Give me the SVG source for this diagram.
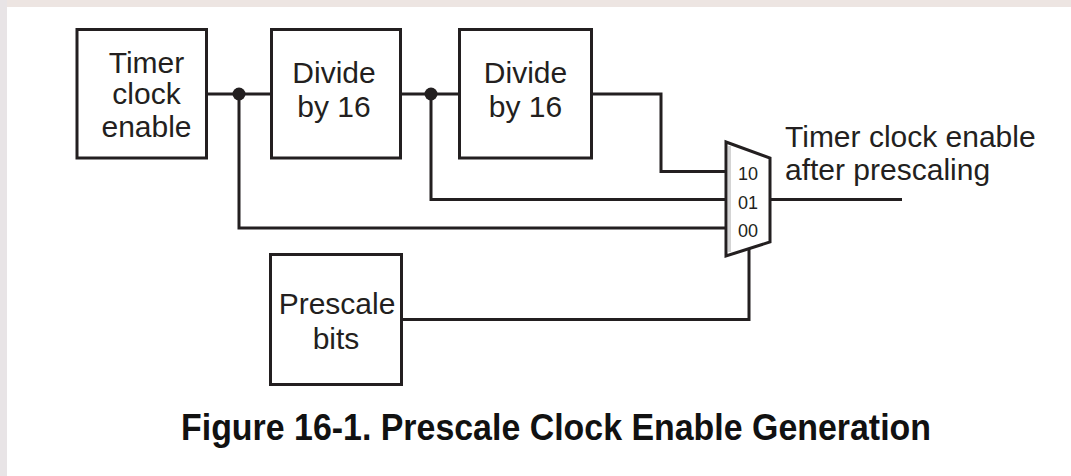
<svg xmlns="http://www.w3.org/2000/svg" width="1071" height="476" viewBox="0 0 1071 476">
<style>
.box{fill:none;stroke:#231f20;stroke-width:3}
.wire{fill:none;stroke:#231f20;stroke-width:3}
.t{font-family:"Liberation Sans",Arial,sans-serif;font-size:30px;fill:#231f20;text-anchor:middle}
.lbl{font-family:"Liberation Sans",Arial,sans-serif;font-size:30px;fill:#231f20}
.sel{font-family:"Liberation Sans",Arial,sans-serif;font-size:18px;fill:#231f20;text-anchor:middle}
.cap{font-family:"Liberation Sans",Arial,sans-serif;font-size:36px;font-weight:bold;fill:#111}
</style>
<rect x="0" y="0" width="1071" height="476" fill="#ffffff"/>
<rect x="0" y="0" width="1071" height="7" fill="#ede5e2"/>
<rect x="0" y="0" width="7" height="476" fill="#e8e4e6"/>

<g id="connectors">
<polyline class="wire" points="207,94 271,94"/>
<polyline class="wire" points="239,94 239,228 726,228"/>
<polyline class="wire" points="401,94 459,94"/>
<polyline class="wire" points="431,94 431,199.5 726,199.5"/>
<polyline class="wire" points="592,94 661,94 661,171.5 726,171.5"/>
<polyline class="wire" points="770,199.5 902,199.5"/>
<polyline class="wire" points="402,319.5 749,319.5 749,249"/>
<circle cx="239" cy="94" r="6.5" fill="#231f20"/>
<circle cx="431" cy="94" r="6.5" fill="#231f20"/>
</g>

<g id="timer-clock-enable">
<rect class="box" x="77" y="29.5" width="129.5" height="128.5"/>
<text class="t" x="146.5" y="73">Timer</text>
<text class="t" x="146.5" y="104">clock</text>
<text class="t" x="146.5" y="137">enable</text>
</g>

<g id="divide1">
<rect class="box" x="271.5" y="29.5" width="129" height="128.5"/>
<text class="t" x="334" y="83">Divide</text>
<text class="t" x="334" y="117">by 16</text>
</g>

<g id="divide2">
<rect class="box" x="459.5" y="29.5" width="132" height="128.5"/>
<text class="t" x="525.5" y="83">Divide</text>
<text class="t" x="525.5" y="117">by 16</text>
</g>

<g id="prescale-bits">
<rect class="box" x="270.5" y="254.5" width="131" height="130"/>
<text class="t" x="337" y="314">Prescale</text>
<text class="t" x="336" y="349">bits</text>
</g>

<g id="mux">
<line x1="729.5" y1="146" x2="729.5" y2="252" stroke="#d4d4d4" stroke-width="3"/>
<polygon points="726,142 770,158 770,242 726,256" fill="none" stroke="#231f20" stroke-width="3" stroke-linejoin="miter"/>
<text class="sel" x="748" y="180">10</text>
<text class="sel" x="748" y="209">01</text>
<text class="sel" x="748" y="237">00</text>
</g>

<g id="output-label">
<text class="lbl" x="785" y="147">Timer clock enable</text>
<text class="lbl" x="785" y="180">after prescaling</text>
</g>

<text class="cap" x="181" y="440" textLength="750" lengthAdjust="spacingAndGlyphs">Figure 16-1. Prescale Clock Enable Generation</text>
</svg>
